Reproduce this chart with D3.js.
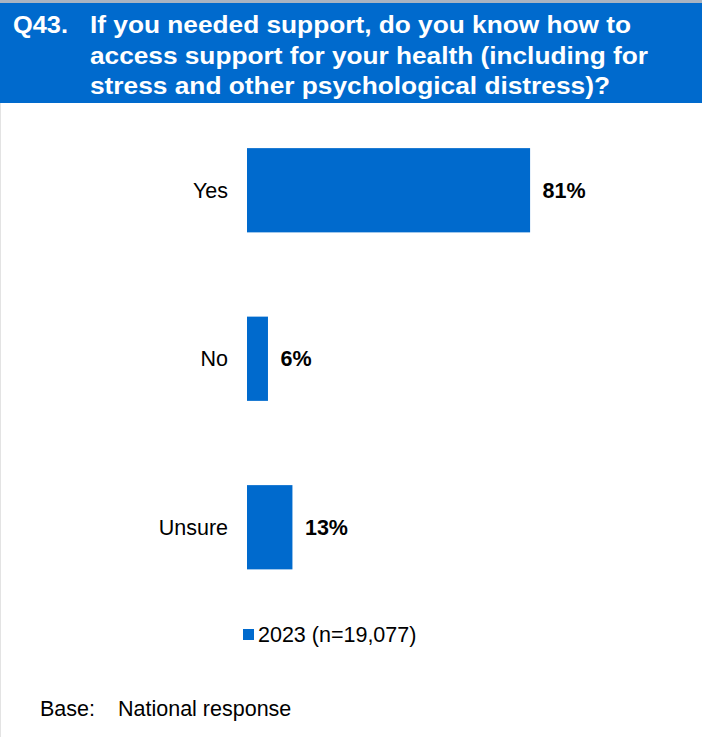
<!DOCTYPE html>
<html>
<head>
<meta charset="utf-8">
<script src="https://cdn.jsdelivr.net/npm/d3@7"></script>
<style>
  html, body { margin: 0; padding: 0; background: #fff; }
  svg { display: block; font-family: "Liberation Sans", Arial, sans-serif; }
</style>
</head>
<body>
<svg id="chart" width="702" height="737"></svg>
<script>
const categories = ["Yes", "No", "Unsure"];
const values2023 = [81, 6, 13];
const valueLabels = ["81%", "6%", "13%"];
const seriesName = "2023 (n=19,077)";
const titleNumber = "Q43.";
const titleLines = [
  "If you needed support, do you know how to",
  "access support for your health (including for",
  "stress and other psychological distress)?"
];
const baseLabel = "Base:";
const baseText = "National response";

const blue = "#006ACD";
const svg = d3.select("#chart");

// frame: light left edge and grey top rule
svg.append("rect").attr("x", 0).attr("y", 0).attr("width", 702).attr("height", 737).attr("fill", "#fff");
svg.append("rect").attr("x", 0).attr("y", 0).attr("width", 1).attr("height", 737).attr("fill", "#e3e3e3");
svg.append("rect").attr("x", 0).attr("y", 0).attr("width", 702).attr("height", 3).attr("fill", "#a9b4c2");

// header
svg.append("rect").attr("x", 0).attr("y", 3).attr("width", 702).attr("height", 100).attr("fill", blue);
const titleFont = 23.5;
svg.append("text").attr("x", 13).attr("y", 33).text(titleNumber)
  .attr("fill", "#fff").attr("font-weight", "bold").attr("font-size", titleFont)
  .attr("textLength", 55).attr("lengthAdjust", "spacingAndGlyphs");
const lineTargets = [631, 648, 610];
titleLines.forEach((t, i) => {
  svg.append("text").attr("x", 90).attr("y", 33 + i * 30.5).text(t)
    .attr("fill", "#fff").attr("font-weight", "bold").attr("font-size", titleFont)
    .attr("textLength", lineTargets[i] - 90).attr("lengthAdjust", "spacingAndGlyphs");
});

// scales
const x = d3.scaleLinear().domain([0, 100]).range([247, 596.5]);
const y = d3.scaleBand().domain(categories).range([106, 611.5]).paddingInner(0.5).paddingOuter(0.25);

const fs = 21.5;
const g = svg.append("g");
g.selectAll("rect.bar").data(categories).join("rect").attr("class", "bar")
  .attr("x", x(0)).attr("y", d => y(d))
  .attr("width", (d, i) => x(values2023[i]) - x(0))
  .attr("height", y.bandwidth()).attr("fill", blue);

g.selectAll("text.cat").data(categories).join("text").attr("class", "cat")
  .attr("x", 228).attr("y", d => y(d) + y.bandwidth() / 2)
  .attr("dy", "0.35em").attr("text-anchor", "end")
  .attr("font-size", fs).attr("fill", "#000").text(d => d);

g.selectAll("text.val").data(categories).join("text").attr("class", "val")
  .attr("x", (d, i) => x(values2023[i]) + 12.5).attr("y", d => y(d) + y.bandwidth() / 2)
  .attr("dy", "0.35em").attr("font-size", fs).attr("font-weight", "bold").attr("fill", "#000")
  .text((d, i) => valueLabels[i]);

// legend
svg.append("rect").attr("x", 243).attr("y", 629).attr("width", 11).attr("height", 11).attr("fill", blue);
svg.append("text").attr("x", 258).attr("y", 642).attr("font-size", fs).attr("fill", "#000").text(seriesName);

// base
svg.append("text").attr("x", 40).attr("y", 716).attr("font-size", fs).attr("fill", "#000").text(baseLabel);
svg.append("text").attr("x", 118).attr("y", 716).attr("font-size", fs).attr("fill", "#000").text(baseText);
</script>
</body>
</html>
